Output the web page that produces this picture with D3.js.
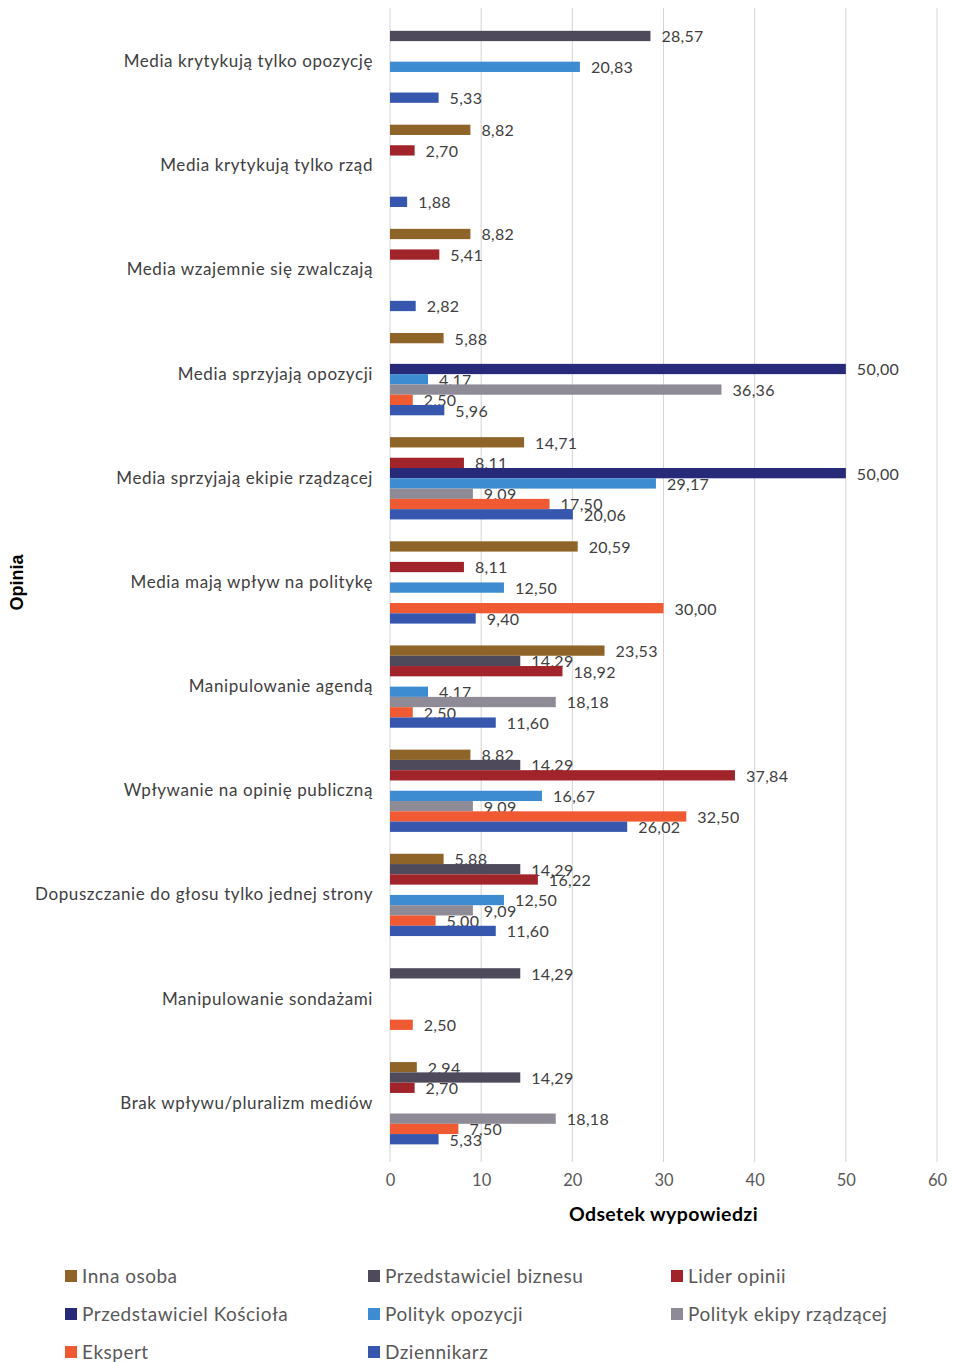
<!DOCTYPE html>
<html lang="pl">
<head>
<meta charset="utf-8">
<title>Opinia – odsetek wypowiedzi</title>
<script src="https://cdn.jsdelivr.net/npm/d3@7"></script>
<style>
  html, body { margin: 0; padding: 0; background: #ffffff; }
  svg { display: block; }
  text { font-family: Lato, "Open Sans", sans-serif; }
</style>
</head>
<body>
<svg id="chart" width="953" height="1362"></svg>
<script>
// Opinion categories (top to bottom)
const categories = [
  "Media krytykują tylko opozycję",
  "Media krytykują tylko rząd",
  "Media wzajemnie się zwalczają",
  "Media sprzyjają opozycji",
  "Media sprzyjają ekipie rządzącej",
  "Media mają wpływ na politykę",
  "Manipulowanie agendą",
  "Wpływanie na opinię publiczną",
  "Dopuszczanie do głosu tylko jednej strony",
  "Manipulowanie sondażami",
  "Brak wpływu/pluralizm mediów"
];

// Speaker groups, in bar order within each category
const seriesNames = [
  "Inna osoba",
  "Przedstawiciel biznesu",
  "Lider opinii",
  "Przedstawiciel Kościoła",
  "Polityk opozycji",
  "Polityk ekipy rządzącej",
  "Ekspert",
  "Dziennikarz"
];

// Percentages per category (null = no statements)
const innaOsoba        = [null, 8.82, 8.82, 5.88, 14.71, 20.59, 23.53, 8.82, 5.88, null, 2.94];
const przedstBiznesu   = [28.57, null, null, null, null, null, 14.29, 14.29, 14.29, 14.29, 14.29];
const liderOpinii      = [null, 2.70, 5.41, null, 8.11, 8.11, 18.92, 37.84, 16.22, null, 2.70];
const przedstKosciola  = [null, null, null, 50.00, 50.00, null, null, null, null, null, null];
const politykOpozycji  = [20.83, null, null, 4.17, 29.17, 12.50, 4.17, 16.67, 12.50, null, null];
const politykEkipy     = [null, null, null, 36.36, 9.09, null, 18.18, 9.09, 9.09, null, 18.18];
const ekspert          = [null, null, null, 2.50, 17.50, 30.00, 2.50, 32.50, 5.00, 2.50, 7.50];
const dziennikarz      = [5.33, 1.88, 2.82, 5.96, 20.06, 9.40, 11.60, 26.02, 11.60, null, 5.33];

const seriesValues = [innaOsoba, przedstBiznesu, liderOpinii, przedstKosciola,
                      politykOpozycji, politykEkipy, ekspert, dziennikarz];

const seriesColors = ["#8e6428", "#4e4a5c", "#a0242a", "#262a78",
                      "#3d8bd0", "#8e8a96", "#ef5a33", "#3657ad"];

const xTicks = [0, 10, 20, 30, 40, 50, 60];

// Flattened records for drawing
const records = [];
categories.forEach((cat, ci) => {
  seriesNames.forEach((s, si) => {
    const v = seriesValues[si][ci];
    if (v != null) records.push({ cat, series: s, si, value: v });
  });
});

const svg = d3.select("#chart");
const textColor = "#404040";

const x = d3.scaleLinear().domain([0, 60]).range([390, 937]);
const y = d3.scaleBand().domain(categories).range([9.6, 1155.3])
  .paddingInner(0.21).paddingOuter(0.105);
const ySub = d3.scaleBand().domain(seriesNames).range([0, y.bandwidth()]).padding(0);

const fmt = d3.formatLocale({ decimal: ",", thousands: " ", grouping: [3], currency: ["", " zł"] }).format(".2f");

// Vertical grid lines
svg.append("g")
  .selectAll("line")
  .data(xTicks)
  .join("line")
  .attr("x1", d => x(d)).attr("x2", d => x(d))
  .attr("y1", 8).attr("y2", 1162)
  .attr("stroke", "#d4d4d4")
  .attr("stroke-width", 1);

// X axis tick labels
const xAxis = d3.axisBottom(x).tickValues(xTicks).tickSize(0).tickPadding(0);
const gx = svg.append("g").attr("transform", "translate(0,1176)").call(xAxis);
gx.select(".domain").remove();
gx.selectAll("text")
  .attr("font-family", "Lato, sans-serif")
  .attr("font-size", 16.5)
  .attr("fill", "#595959")
  .attr("dy", "0.6em");

// Category labels
const yAxis = d3.axisLeft(y).tickSize(0).tickPadding(0);
const gy = svg.append("g").attr("transform", "translate(373,0)").call(yAxis);
gy.select(".domain").remove();
gy.selectAll("text")
  .attr("font-family", "Lato, sans-serif")
  .attr("font-size", 17)
  .attr("letter-spacing", "0.6px")
  .attr("fill", textColor)
  .attr("dy", "0.32em");

// Bars
const groups = svg.append("g").selectAll("g")
  .data(records)
  .join("g")
  .attr("transform", d => `translate(0,${y(d.cat) + ySub(d.series)})`);

groups.append("rect")
  .attr("x", x(0))
  .attr("y", 0)
  .attr("width", d => x(d.value) - x(0))
  .attr("height", ySub.bandwidth())
  .attr("fill", d => seriesColors[d.si]);

groups.append("text")
  .attr("x", d => x(d.value) + 11)
  .attr("y", ySub.bandwidth() / 2)
  .attr("dy", "0.4em")
  .attr("font-size", 16)
  .attr("letter-spacing", "0.3px")
  .attr("fill", textColor)
  .text(d => fmt(d.value));

// Axis titles
svg.append("text")
  .attr("x", (x(0) + x(60)) / 2)
  .attr("y", 1221)
  .attr("text-anchor", "middle")
  .attr("font-size", 19.5)
  .attr("letter-spacing", "0.4px")
  .attr("font-weight", 700)
  .attr("fill", "#000")
  .text("Odsetek wypowiedzi");

svg.append("text")
  .attr("transform", `translate(23,${(9.6 + 1155.3) / 2}) rotate(-90)`)
  .attr("text-anchor", "middle")
  .style("font-family", "'Liberation Sans', Arial, sans-serif")
  .attr("font-size", 18)
  .attr("font-weight", 700)
  .attr("fill", "#000")
  .text("Opinia");

// Legend: three columns
const legendCols = [65, 368, 671];
const legendRows = [1276, 1314, 1352];
const legend = svg.append("g").selectAll("g")
  .data(seriesNames)
  .join("g")
  .attr("transform", (d, i) => `translate(${legendCols[i % 3]},${legendRows[Math.floor(i / 3)]})`);

legend.append("rect")
  .attr("x", 0).attr("y", -6)
  .attr("width", 12).attr("height", 12)
  .attr("fill", (d, i) => seriesColors[i]);

legend.append("text")
  .attr("x", 17)
  .attr("y", 0)
  .attr("dy", "0.36em")
  .attr("font-size", 19)
  .attr("letter-spacing", "0.5px")
  .attr("fill", "#595959")
  .text(d => d);
</script>
</body>
</html>
